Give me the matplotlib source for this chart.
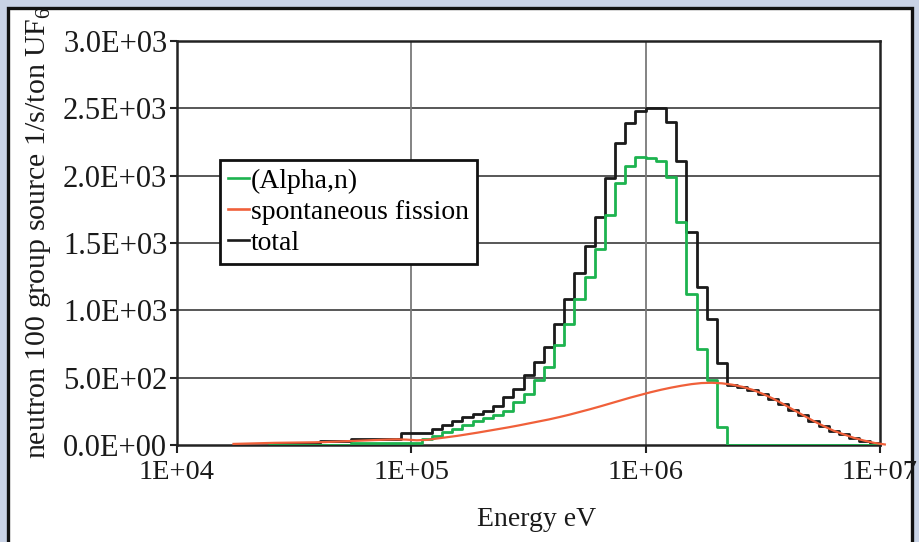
import numpy as np
import matplotlib
matplotlib.use('Agg')
import matplotlib.pyplot as plt
from matplotlib.patches import Rectangle
from matplotlib.lines import Line2D
from matplotlib.ticker import NullLocator

# ---------------- data ----------------
# 100-group lethargy structure (width 0.1), group k spans 1e6*exp(0.1k) .. 1e6*exp(0.1(k+1)) eV
fission_k0 = -41
fission_values = [8, 10, 12, 14, 16, 17, 18, 19, 20, 22, 25, 28, 31, 34, 37, 40, 42,
                  40, 35, 38, 48, 58, 68, 80, 92, 105, 118, 131, 145, 160, 175, 190,
                  207, 225, 245, 265, 286, 308, 330, 352, 372, 392, 410, 426, 440, 452,
                  460, 462, 458, 448, 432, 410, 380, 345, 305, 262, 220, 178, 140, 105,
                  78, 52, 32, 15, 4]

series_k0 = -37
total_values = [17, 17, 17, 17, 17, 30, 30, 30, 42, 42, 42, 42, 42, 87, 87, 87,
                119, 148, 180, 205, 230, 255, 289, 358, 413, 519, 618, 729, 898, 1083,
                1274, 1476, 1694, 1983, 2243, 2391, 2480, 2502, 2502, 2398, 2107, 1582,
                1174, 932, 606, 448, 432, 410, 380, 345, 305, 262, 220, 178, 140, 105,
                78, 52, 32, 15]
alpha_values = [0, 0, 0, 0, 0, 0, 0, 0, 17, 17, 17, 17, 17, 15, 15,
                45, 65, 95, 120, 150, 175, 200, 225, 255, 320, 380, 482, 576, 742, 898,
                1083, 1249, 1459, 1706, 1945, 2074, 2137, 2130, 2108, 1993, 1657, 1118,
                712, 482, 136, 0, 0, 0, 0, 0, 0, 0, 0, 0, 0, 0, 0, 0, 0, 0]

legend_labels = ['(Alpha,n)', 'spontaneous fission', 'total']
xtick_values = [1e4, 1e5, 1e6, 1e7]
xtick_labels = ['1E+04', '1E+05', '1E+06', '1E+07']
ytick_values = [0, 500, 1000, 1500, 2000, 2500, 3000]
ytick_labels = ['0.0E+00', '5.0E+02', '1.0E+03', '1.5E+03', '2.0E+03', '2.5E+03', '3.0E+03']

# ---------------- style ----------------
plt.rcParams['font.family'] = ['Liberation Serif', 'DejaVu Serif']
plt.rcParams['mathtext.fontset'] = 'custom'
plt.rcParams['mathtext.rm'] = 'Liberation Serif'
FS = 20
GREEN = '#1db34f'
ORANGE = '#f0603a'
BLACK = '#1a1a1a'

W, H = 920, 542
fig = plt.figure(figsize=(W / 100, H / 100), dpi=100)
fig.patch.set_facecolor('#c9d3e6')
frame = Rectangle((8 / W, -0.05), (912 - 8) / W, 1.05 - 8 / H,
                  transform=fig.transFigure, facecolor='white',
                  edgecolor='#111111', linewidth=2.4, zorder=-10)
fig.patches.append(frame)

L, R, T, B = 177, 880, 41, 445
ax = fig.add_axes([L / W, 1 - B / H, (R - L) / W, (B - T) / H])
ax.set_zorder(5)
ax.set_facecolor('none')
ax.set_xscale('log')
ax.set_xlim(1e4, 1e7)
ax.set_ylim(0, 3000)


def step_xy(k0, vals):
    vals = np.asarray(vals, dtype=float)
    edges = 1e6 * np.exp(0.1 * np.arange(k0, k0 + len(vals) + 1))
    xs = np.concatenate([[edges[0]], edges])
    ys = np.concatenate([[0.0], vals, [0.0]])
    return xs, ys


xs, ys = step_xy(series_k0, total_values)
ax.step(xs, ys, where='post', color=BLACK, lw=2.0, zorder=3)
xs, ys = step_xy(series_k0, alpha_values)
ax.step(xs, ys, where='post', color=GREEN, lw=2.0, zorder=4)

fk = np.arange(fission_k0, fission_k0 + len(fission_values))
centers = 1e6 * np.exp(0.1 * (fk + 0.5))
ax.plot(centers, fission_values, color=ORANGE, lw=1.6, zorder=5, clip_on=False)

# grid / spines
for yv in ytick_values[1:-1]:
    ax.axhline(yv, color='#4a4a4a', lw=1.3, zorder=1)
for xv in xtick_values[1:-1]:
    ax.axvline(xv, color='#7a7a7a', lw=1.3, zorder=1)
for s in ax.spines.values():
    s.set_color('#222222')
    s.set_linewidth(1.8)

ax.set_xticks(xtick_values)
ax.set_xticklabels(xtick_labels, fontsize=20.5, color='#1a1a1a')
ax.xaxis.set_minor_locator(NullLocator())
ax.set_yticks(ytick_values)
ax.set_yticklabels(ytick_labels, fontsize=22, color='#1a1a1a')
ax.tick_params(axis='x', direction='out', length=6, width=1.5, pad=5, color='#222222')
ax.tick_params(axis='y', direction='out', length=5, width=1.5, pad=2, color='#222222')

fig.text(537 / W, 1 - 520 / H, 'Energy eV', fontsize=FS, ha='center', va='center',
         color='#1a1a1a')
fig.text(39 / W, 1 - 233 / H, 'neutron 100 group source 1/s/ton UF$_6$', fontsize=21.5,
         rotation=90, ha='center', va='center', color='#1a1a1a')

handles = [Line2D([], [], color=GREEN, lw=1.9),
           Line2D([], [], color=ORANGE, lw=1.9),
           Line2D([], [], color=BLACK, lw=1.9)]
leg = ax.legend(handles, legend_labels, loc='upper left',
                bbox_to_anchor=((220 - L) / (R - L), (B - 160) / (B - T)),
                borderaxespad=0, fontsize=FS, frameon=True, fancybox=False,
                handlelength=0.75, handletextpad=0.05, borderpad=0.3,
                labelspacing=0.2)
leg.get_frame().set_edgecolor('#111111')
leg.get_frame().set_linewidth(2.0)
leg.get_frame().set_facecolor('white')
leg.get_frame().set_alpha(1)
leg.set_zorder(10)

fig.savefig('out.png', dpi=100, facecolor=fig.get_facecolor())
